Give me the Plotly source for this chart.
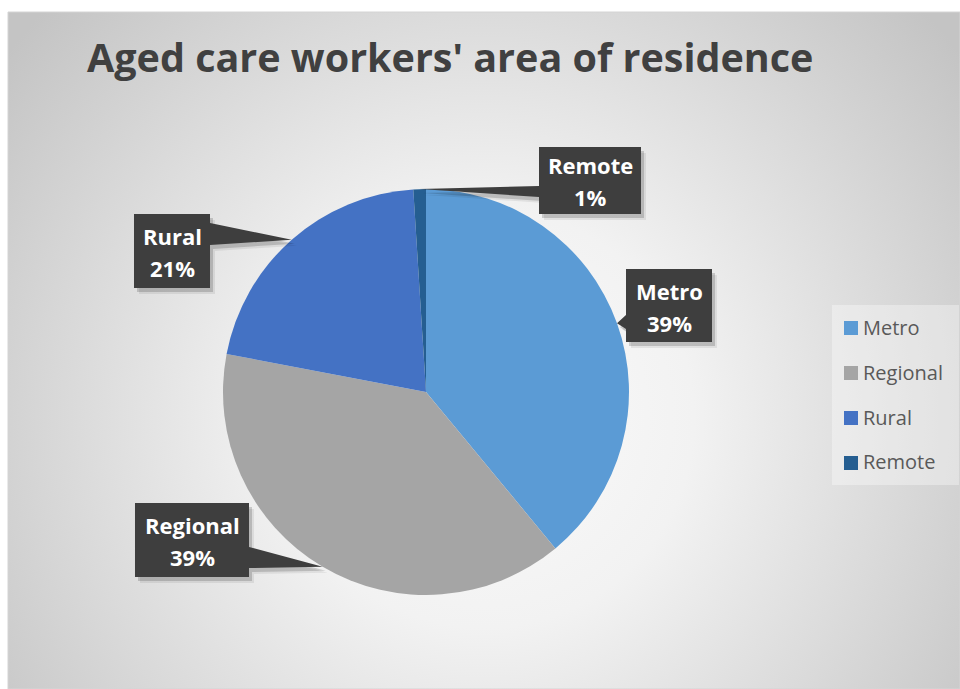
import base64
import math
import plotly.graph_objects as go

# ---- data ----
title = "Aged care workers' area of residence"
categories = ["Metro", "Regional", "Rural", "Remote"]
shares = [39, 39, 21, 1]
colors = ["#5B9BD5", "#A5A5A5", "#4472C4", "#255E91"]

# ---- geometry (pixels) ----
W, H = 960, 689
CX, CY, R = 426, 392, 203
FX0, FY0 = 8, 12  # chart frame top-left
FONT = "Open Sans"


def px(x):
    return x / W


def py(y):
    return 1 - y / H


# radial grey background as an inline SVG image
fw, fh = W - FX0, H - FY0
svg = (
    f'<svg xmlns="http://www.w3.org/2000/svg" width="{fw}" height="{fh}" viewBox="0 0 {fw} {fh}">'
    f'<defs><radialGradient id="g" gradientUnits="userSpaceOnUse" cx="{fw/2:.0f}" cy="{fh*0.6:.0f}" r="600">'
    '<stop offset="0" stop-color="#FBFBFB"/><stop offset="0.35" stop-color="#F2F2F2"/>'
    '<stop offset="1" stop-color="#C4C4C4"/></radialGradient></defs>'
    f'<rect width="{fw}" height="{fh}" fill="url(#g)"/></svg>'
)
bg_src = "data:image/svg+xml;base64," + base64.b64encode(svg.encode()).decode()

fig = go.Figure()
fig.add_trace(go.Pie(
    labels=categories,
    values=shares,
    marker=dict(colors=colors, line=dict(width=0)),
    sort=False,
    direction="clockwise",
    rotation=0,
    textinfo="none",
    hoverinfo="label+percent",
    showlegend=False,
    domain=dict(x=[px(CX - R), px(CX + R)], y=[py(CY + R), py(CY - R)]),
))

# mid-angle of each slice (clockwise from 12 o'clock) -> point on the rim
total = sum(shares)
tips = []
acc = 0
for v in shares:
    mid = (acc + v / 2) / total * 2 * math.pi
    tips.append((CX + R * math.sin(mid), CY - R * math.cos(mid)))
    acc += v

# callout boxes: (left, top, right, bottom), side the pointer leaves from, pointer base
callouts = {
    "Metro": ((626, 269, 712, 342), "left", (315, 329)),
    "Regional": ((135, 503, 249, 577), "right", (547, 568)),
    "Rural": ((134, 214, 210, 288), "right", (223, 245)),
    "Remote": ((539, 147, 641, 214), "left", (186, 197)),
}


def callout_path(box, side, base, tip, dx=0, dy=0):
    l, t, r, b = box
    a1, a2 = base
    tx, ty = tip
    if side == "right":
        pts = [(l, t), (r, t), (r, a1), (tx, ty), (r, a2), (r, b), (l, b)]
    else:
        pts = [(l, t), (r, t), (r, b), (l, b), (l, a2), (tx, ty), (l, a1)]
    pts = [(x + dx, y + dy) for x, y in pts]
    return "M " + " L ".join(f"{px(x):.5f},{py(y):.5f}" for x, y in pts) + " Z"


shapes = []
annotations = []

for name, v, tip in zip(categories, shares, tips):
    box, side, base = callouts[name]
    # soft drop shadow
    for (ox, oy, a) in [(5, 6, 0.07), (3, 4, 0.16)]:
        shapes.append(dict(type="path", xref="paper", yref="paper",
                           path=callout_path(box, side, base, tip, ox, oy),
                           fillcolor=f"rgba(0,0,0,{a})", line=dict(width=0)))
    shapes.append(dict(type="path", xref="paper", yref="paper",
                       path=callout_path(box, side, base, tip),
                       fillcolor="#3E3E3E", line=dict(width=0)))
    l, t, r, b = box
    cx, cy = (l + r) / 2, (t + b) / 2
    for txt, off in [(name, -16), (f"{v}%", 16)]:
        annotations.append(dict(
            x=px(cx), y=py(cy + off + 1), xref="paper", yref="paper",
            text=f"<b>{txt}</b>", showarrow=False, xanchor="center", yanchor="middle",
            font=dict(family=FONT, size=22, color="#FFFFFF"),
        ))

# legend panel
shapes.append(dict(type="rect", xref="paper", yref="paper",
                   x0=px(832), x1=px(959), y0=py(485), y1=py(305),
                   fillcolor="rgba(255,255,255,0.35)", line=dict(width=0)))
for i, (name, col) in enumerate(zip(categories, colors)):
    yc = 328 + 45 * i
    shapes.append(dict(type="rect", xref="paper", yref="paper",
                       x0=px(844), x1=px(858), y0=py(yc + 7), y1=py(yc - 7),
                       fillcolor=col, line=dict(width=0)))
    annotations.append(dict(
        x=px(861), y=py(yc - 1), xref="paper", yref="paper", text=name,
        showarrow=False, xanchor="left", yanchor="middle",
        font=dict(family=FONT, size=20, color="#595959"),
    ))

# frame border
shapes.append(dict(type="rect", xref="paper", yref="paper",
                   x0=px(FX0), x1=1, y0=0, y1=py(FY0),
                   fillcolor="rgba(0,0,0,0)", line=dict(color="#D4D4D4", width=1)))

# title
annotations.append(dict(
    x=px(85), y=py(57), xref="paper", yref="paper", text=f"<b>{title}</b>",
    showarrow=False, xanchor="left", yanchor="middle",
    font=dict(family=FONT, size=39.5, color="#404040"),
))

fig.update_layout(
    width=W, height=H,
    margin=dict(l=0, r=0, t=0, b=0),
    paper_bgcolor="#FFFFFF",
    plot_bgcolor="#FFFFFF",
    shapes=shapes,
    annotations=annotations,
    images=[dict(source=bg_src, xref="paper", yref="paper",
                 x=px(FX0), y=py(FY0), sizex=fw / W, sizey=fh / H,
                 xanchor="left", yanchor="top", sizing="stretch", layer="below")],
)

fig.write_html("out.html")
